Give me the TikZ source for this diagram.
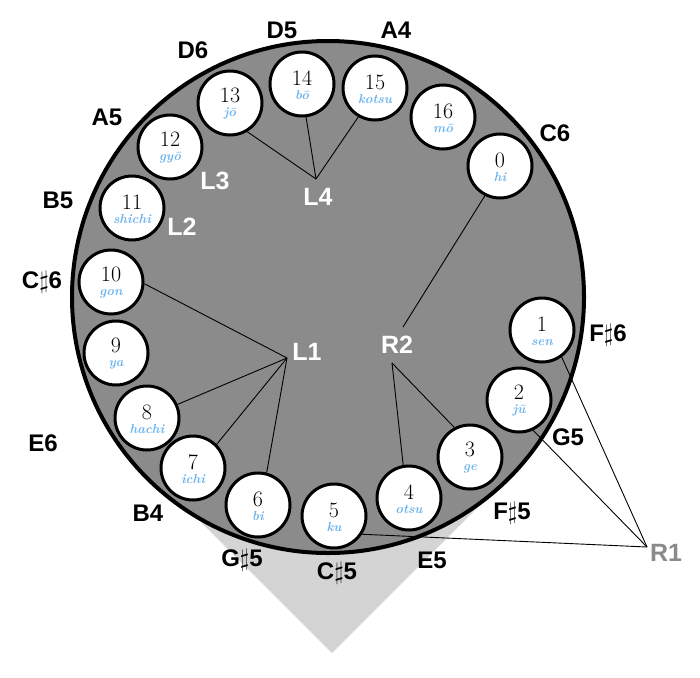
\documentclass[tikz,border=0pt]{standalone}
\usepackage{fontspec}
\newfontfamily\labfont{Liberation Sans}
\definecolor{platec}{HTML}{8B8B8B}
\definecolor{shadec}{HTML}{D4D4D4}
\definecolor{subc}{HTML}{6CB4EE}
\definecolor{rone}{HTML}{8A8A8A}
\tikzset{
  hole/.style={circle, draw=black, line width=3pt, fill=white, minimum size=64pt, inner sep=0pt},
  holetext/.style={align=center, inner sep=0pt, font=\fontsize{13}{14}\selectfont},
  notelab/.style={inner sep=0pt, font=\labfont\bfseries\fontsize{24}{24}\selectfont},
  grouplab/.style={inner sep=0pt, text=white, font=\labfont\bfseries\fontsize{25}{25}\selectfont},
  conn/.style={draw=black, line width=0.9pt}
}
\newcommand\holeat[4]{%
  \node[hole] (#1) at (#2) {};
  \node[holetext] (#1t) at ([yshift=-1pt]#1.center) {{\fontsize{22}{14}\selectfont #3}\\{\color{subc}\bfseries\itshape #4}};
}
\begin{document}
\begin{tikzpicture}[x=1pt,y=-1pt]
\useasboundingbox (0,0) rectangle (700,677);
% shaded square
\fill[shadec] (332,653) -- (152,473) -- (332,293) -- (512,473) -- cycle;
% plate
\node[circle, draw=black, line width=4pt, fill=platec, minimum size=512pt, inner sep=0pt] (plate) at (328,297) {};
% holes
\holeat{c0}{500,166}{0}{hi}
\holeat{c1}{542,330}{1}{sen}
\holeat{c2}{519,400}{2}{jū}
\holeat{c3}{470,457}{3}{ge}
\holeat{c4}{409,498}{4}{otsu}
\holeat{c5}{334,516}{5}{ku}
\holeat{c6}{258,505}{6}{bi}
\holeat{c7}{193,468}{7}{ichi}
\holeat{c8}{147,418}{8}{hachi}
\holeat{c9}{116,353}{9}{ya}
\holeat{c10}{111,282}{10}{gon}
\holeat{c11}{132,208}{11}{shichi}
\holeat{c12}{170,147}{12}{gyō}
\holeat{c13}{230,103}{13}{jō}
\holeat{c14}{302,84}{14}{bō}
\holeat{c15}{375,88}{15}{kotsu}
\holeat{c16}{443,117}{16}{mō}
% apex coordinates
\coordinate (l4a) at (316,179);
\coordinate (l1a) at (287,358);
\coordinate (r2t) at (403,327);
\coordinate (r2a) at (392,363);
\coordinate (r1a) at (647,547);
% connectors
\draw[conn] (c13.-59) -- (l4a);
\draw[conn] (c14.-83) -- (l4a);
\draw[conn] (c15.-120) -- (l4a);
\draw[conn] (c10.-3) -- (l1a);
\draw[conn] (c8.24) -- (l1a);
\draw[conn] (c7.45) -- (l1a);
\draw[conn] (c6.75) -- (l1a);
\draw[conn] (c0.-117) -- (r2t);
\draw[conn] (c4.100) -- (r2a);
\draw[conn] (c3.118) -- (r2a);
\draw[conn] (c1.-54) -- (r1a);
\draw[conn] (c2.-65) -- (r1a);
\draw[conn] (c5.-33) -- (r1a);
% group labels
\node[grouplab] (L4) at (318,197) {L4};
\node[grouplab] (L3) at (215,181) {L3};
\node[grouplab] (L2) at (182,227) {L2};
\node[grouplab] (L1) at (307,352) {L1};
\node[grouplab] (R2) at (397,345) {R2};
\node[grouplab, text=rone] (R1) at (666,553) {R1};
% note labels
\node[notelab] (nD5) at (282,30) {D5};
\node[notelab] (nA4) at (396,30) {A4};
\node[notelab] (nD6) at (193,50) {D6};
\node[notelab] (nA5) at (107,117) {A5};
\node[notelab] (nB5) at (58,200) {B5};
\node[notelab] (nCs6) at (42,282) {C$\sharp$6};
\node[notelab] (nE6) at (43,443) {E6};
\node[notelab] (nB4) at (148,513) {B4};
\node[notelab] (nGs5) at (242,560) {G$\sharp$5};
\node[notelab] (nCs5) at (337,573) {C$\sharp$5};
\node[notelab] (nE5) at (432,560) {E5};
\node[notelab] (nFs5) at (512,513) {F$\sharp$5};
\node[notelab] (nG5) at (568,437) {G5};
\node[notelab] (nFs6) at (608,335) {F$\sharp$6};
\node[notelab] (nC6) at (555,133) {C6};
\end{tikzpicture}
\end{document}
